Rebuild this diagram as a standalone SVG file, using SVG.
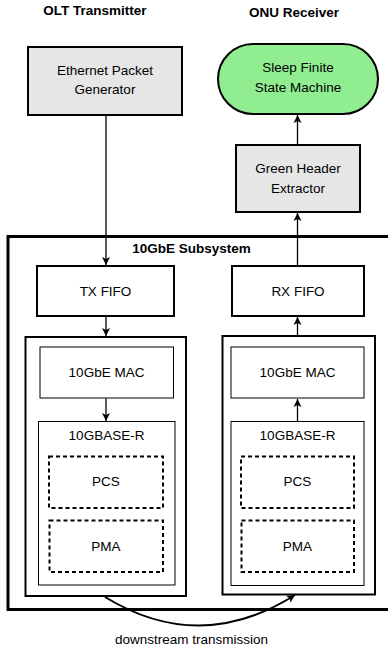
<svg xmlns="http://www.w3.org/2000/svg" width="388" height="648" viewBox="0 0 388 648">
<defs>
<marker id="arr" markerWidth="10" markerHeight="10" refX="8" refY="5" orient="auto" markerUnits="userSpaceOnUse">
<path d="M0,1 L8,5 L0,9 L2,5 Z" fill="#000"/>
</marker>
<style>
text{font-family:"Liberation Sans",Arial,Helvetica,sans-serif;font-size:13.5px;fill:#000;text-anchor:middle}
.b{font-weight:bold}
.gray{fill:#e6e6e6;stroke:#000;stroke-width:2}
.box2{fill:#fff;stroke:#000;stroke-width:2}
.box1{fill:#fff;stroke:#000;stroke-width:1}
.dash{fill:none;stroke:#000;stroke-width:2;stroke-dasharray:4 3}
.conn{fill:none;stroke:#000;stroke-width:1.3}
</style>
</defs>
<text class="b" x="95" y="15">OLT Transmitter</text>
<text class="b" x="294" y="17">ONU Receiver</text>
<g id="subsystem">
<rect x="8" y="236.5" width="400" height="373" fill="none" stroke="#000" stroke-width="3"/>
<text class="b" x="191.5" y="253">10GbE Subsystem</text>
</g>
<g id="eth-gen">
<rect class="gray" x="28" y="47" width="154" height="68"/>
<text x="105" y="75">Ethernet Packet</text>
<text x="105" y="94">Generator</text>
</g>
<g id="fsm">
<rect x="218" y="44" width="160" height="70" rx="35" ry="35" fill="#90ee90" stroke="#000" stroke-width="2"/>
<text x="298" y="72">Sleep Finite</text>
<text x="298" y="92">State Machine</text>
</g>
<g id="green-header">
<rect class="gray" x="236" y="145" width="124" height="67"/>
<text x="298" y="172.5">Green Header</text>
<text x="298" y="192.5">Extractor</text>
</g>
<g id="tx-fifo">
<rect class="box2" x="37" y="266" width="137" height="50"/>
<text x="105.5" y="295.5">TX FIFO</text>
</g>
<g id="rx-fifo">
<rect class="box2" x="232" y="266" width="132" height="50"/>
<text x="298" y="295.5">RX FIFO</text>
</g>
<g id="tx-block">
<rect class="box2" x="25.5" y="337" width="160.5" height="259"/>
</g>
<g id="rx-block">
<rect class="box2" x="222.5" y="336" width="152.5" height="258.5"/>
</g>
<g id="tx-mac">
<rect class="box1" x="40" y="347" width="133.5" height="51"/>
<text x="106.5" y="377">10GbE MAC</text>
</g>
<g id="rx-mac">
<rect class="box1" x="231" y="347" width="133" height="51"/>
<text x="297.5" y="377">10GbE MAC</text>
</g>
<g id="tx-base">
<rect class="box1" x="38.5" y="421.5" width="136.5" height="163.5"/>
<text x="106.5" y="440">10GBASE-R</text>
</g>
<g id="rx-base">
<rect class="box1" x="231" y="421.5" width="133" height="164"/>
<text x="297.5" y="440">10GBASE-R</text>
</g>
<g id="tx-pcs">
<rect class="dash" x="49" y="456.5" width="114" height="51.5"/>
<text x="106" y="486">PCS</text>
</g>
<g id="tx-pma">
<rect class="dash" x="49.5" y="520.5" width="113.5" height="51.5"/>
<text x="106" y="551">PMA</text>
</g>
<g id="rx-pcs">
<rect class="dash" x="241" y="456.5" width="113" height="51.5"/>
<text x="297.5" y="486">PCS</text>
</g>
<g id="rx-pma">
<rect class="dash" x="241.5" y="520.5" width="112.5" height="51.5"/>
<text x="297.5" y="551">PMA</text>
</g>
<g id="connectors">
<path class="conn" d="M106,115 L106,265" marker-end="url(#arr)"/>
<path class="conn" d="M106,317 L106,336" marker-end="url(#arr)"/>
<path class="conn" d="M106,398.5 L106,421" marker-end="url(#arr)"/>
<path class="conn" d="M297.5,421 L297.5,399" marker-end="url(#arr)"/>
<path class="conn" d="M297.5,335 L297.5,317" marker-end="url(#arr)"/>
<path class="conn" d="M297.5,265 L297.5,213" marker-end="url(#arr)"/>
<path class="conn" d="M297.5,144 L297.5,115" marker-end="url(#arr)"/>
<path fill="none" stroke="#000" stroke-width="2" d="M105,597 Q200,655 295,595" marker-end="url(#arr)"/>
<text x="191.5" y="644">downstream transmission</text>
</g>
</svg>
